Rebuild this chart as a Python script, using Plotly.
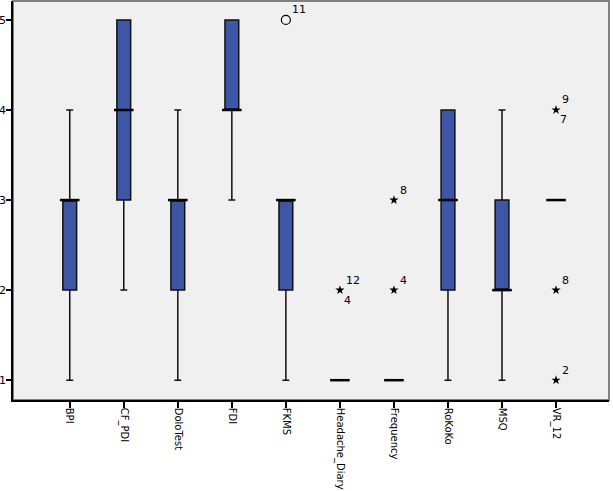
import plotly.graph_objects as go

categories = ["BPI", "CF_PDI", "DoloTest", "FDI", "FKMS", "Headache_Diary",
              "Frequency", "RoKoKo", "MSQ", "VR_12"]
lower_whisker = [1, 2, 1, 3, 1, 1, 1, 1, 1, 3]
q1_values     = [2, 3, 2, 4, 2, 1, 1, 2, 2, 3]
median_values = [3, 4, 3, 4, 3, 1, 1, 3, 2, 3]
q3_values     = [3, 5, 3, 5, 3, 1, 1, 4, 3, 3]
upper_whisker = [4, 5, 4, 5, 3, 1, 1, 4, 4, 3]

# outliers (circle) and extremes (star)
circle_cats = ["FKMS"]
circle_vals = [5]

star_cats = ["Headache_Diary", "Frequency", "Frequency", "VR_12", "VR_12", "VR_12"]
star_vals = [2, 2, 3, 1, 2, 4]

label_cats = ["FKMS", "Headache_Diary", "Headache_Diary", "Frequency", "Frequency",
              "VR_12", "VR_12", "VR_12", "VR_12"]
label_vals = [5, 2, 2, 2, 3, 1, 2, 4, 4]
label_ids = ["11", "12", "4", "4", "8", "2", "8", "9", "7"]
label_side = ["up", "up", "down", "up", "up", "up", "up", "up", "down"]

y_ticks = [1, 2, 3, 4, 5]

fig = go.Figure()

fig.add_trace(go.Box(
    x=categories, q1=q1_values, median=median_values, q3=q3_values,
    lowerfence=lower_whisker, upperfence=upper_whisker,
    boxpoints=False, width=0.255, whiskerwidth=0.5,
    fillcolor="#3E56A6", line=dict(color="#111111", width=1.5),
    hoverinfo="skip", showlegend=False,
))

fig.add_trace(go.Scatter(
    x=categories, y=median_values, mode="markers",
    marker=dict(symbol="line-ew", size=14, line=dict(color="black", width=2.5)),
    hoverinfo="skip", showlegend=False,
))

fig.add_trace(go.Scatter(
    x=circle_cats, y=circle_vals, mode="markers",
    marker=dict(symbol="circle-open", size=9, color="black", line=dict(width=1.2)),
    showlegend=False,
))

fig.add_trace(go.Scatter(
    x=star_cats, y=star_vals, mode="markers",
    marker=dict(symbol="star", size=7, color="black"),
    showlegend=False,
))

annotations = []
for c, v, t, s in zip(label_cats, label_vals, label_ids, label_side):
    annotations.append(dict(
        x=c, y=v, text=t, showarrow=False, xanchor="left", yanchor="middle",
        xshift=4 if s == "up" else 2, yshift=10 if s == "up" else -10,
        font=dict(family="DejaVu Sans", size=11, color="black"),
    ))

fig.update_layout(
    width=613, height=491,
    margin=dict(l=13, r=4, t=1, b=91),
    paper_bgcolor="white", plot_bgcolor="#F0F0F0",
    font=dict(family="DejaVu Sans", size=11, color="black"),
    annotations=annotations,
    shapes=[dict(type="rect", xref="paper", yref="paper", x0=0, x1=1, y0=0, y1=1,
                 line=dict(color="#808080", width=2), layer="below")],
)

fig.update_xaxes(
    type="category", categoryorder="array", categoryarray=categories,
    range=[-1.05, 9.98], showgrid=False, zeroline=False, automargin=False,
    showline=True, linecolor="black", linewidth=1.5,
    ticks="outside", ticklen=6, tickcolor="black", tickwidth=1.5,
    tickangle=90, ticklabelstandoff=-2, tickfont=dict(size=10),
)
fig.update_yaxes(
    range=[0.78, 5.21], tickvals=y_ticks, showgrid=False, zeroline=False,
    automargin=False, showline=True, linecolor="black", linewidth=1.5,
    ticks="outside", ticklen=5, tickcolor="black", tickwidth=1.5,
    ticklabelstandoff=-2, tickfont=dict(size=11),
)

fig.write_html("out.html", config={"displayModeBar": False},
               post_script="document.body.style.margin='0';document.body.style.overflow='hidden';")
